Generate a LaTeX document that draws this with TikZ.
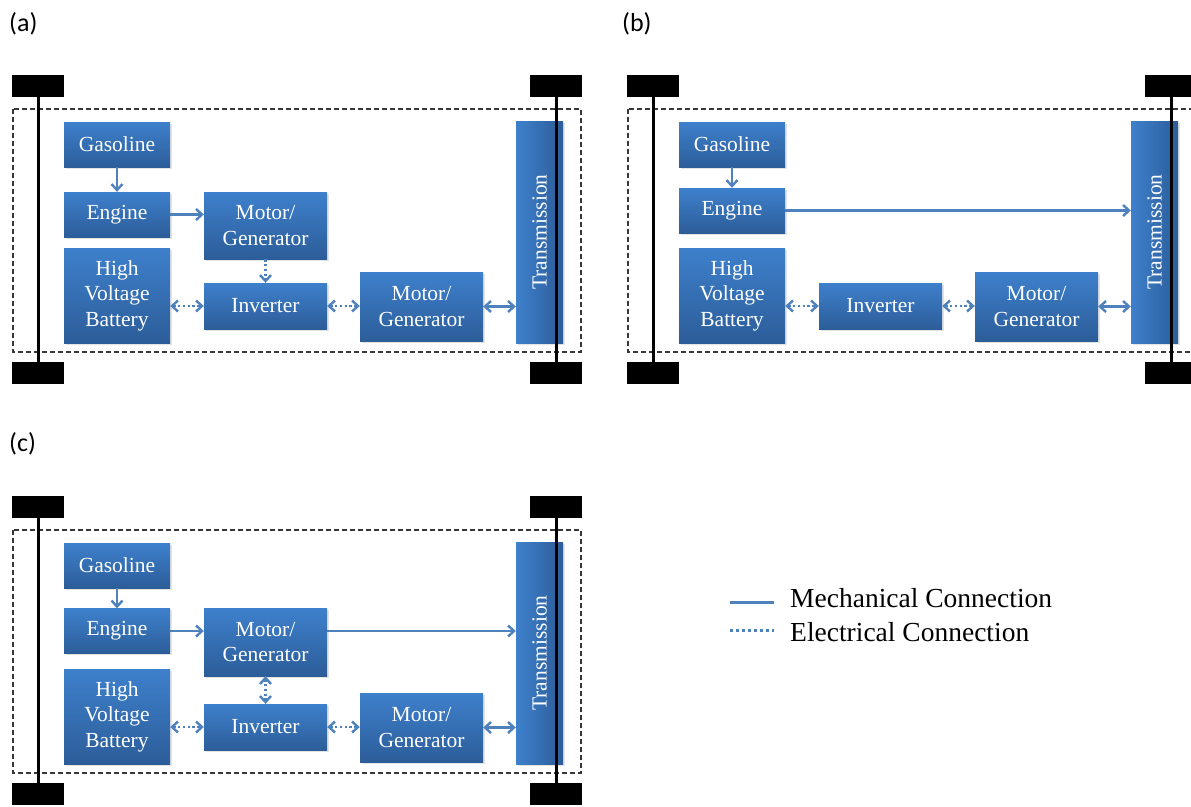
\documentclass[tikz,border=0pt]{standalone}
\usepackage{fontspec}
\setmainfont{Liberation Serif}
\newfontfamily\panelfont{Carlito}
\usetikzlibrary{arrows.meta,shadows}

\definecolor{boxtop}{RGB}{62,128,204}
\definecolor{boxbot}{RGB}{44,93,153}
\definecolor{linkblue}{RGB}{79,129,189}
\definecolor{framegray}{RGB}{55,55,55}

\tikzset{
  blk/.style={rectangle, inner sep=0pt, draw=none, text=white, align=center,
    font=\fontsize{21.5}{25.5}\selectfont,
    top color=boxtop, bottom color=boxbot,
    drop shadow={opacity=0.22, shadow xshift=1.5pt, shadow yshift=-1.5pt}},
  transbox/.style={blk, left color=boxtop, right color=boxbot},
  wheel/.style={rectangle, fill=black, draw=none, inner sep=0pt,
    minimum width=52pt, minimum height=22pt},
  axle/.style={draw=black, line width=3pt},
  chassis/.style={draw=framegray, line width=1.2pt, dash pattern=on 5pt off 3pt},
  mech/.style={draw=linkblue, line width=2.4pt, -{Straight Barb[length=6pt, width=11pt]}},
  mechboth/.style={draw=linkblue, line width=2.4pt, {Straight Barb[length=6pt, width=11pt]}-{Straight Barb[length=6pt, width=11pt]}},
  elec/.style={draw=linkblue, line width=2.4pt, dash pattern=on 2.4pt off 2.4pt, -{Straight Barb[length=6pt, width=11pt]}},
  elecboth/.style={draw=linkblue, line width=2.4pt, dash pattern=on 2.4pt off 2.4pt, {Straight Barb[length=6pt, width=11pt]}-{Straight Barb[length=6pt, width=11pt]}},
  panellabel/.style={inner sep=0pt, anchor=west, font=\panelfont\fontsize{26}{30}\selectfont},
  legendtext/.style={inner sep=0pt, anchor=base west, font=\fontsize{27.5}{32}\selectfont},
}

% Parts shared by every layout: wheels, axles, body outline, fuel,
% engine, battery, inverter, traction motor and transmission.
% #1 = name prefix, #2 = engine centre y
\newcommand{\drivetrain}[2]{%
  \draw[chassis] (13,109) rectangle (581,352);
  \node[blk, minimum width=106pt, minimum height=45pt] (#1-gas) at (117,144.5) {Gasoline};
  \node[blk, minimum width=106pt, minimum height=45pt] (#1-eng) at (117,#2) {Engine};
  \node[blk, minimum width=106pt, minimum height=95pt] (#1-bat) at (117,295.5) {High\\Voltage\\Battery};
  \node[blk, minimum width=123pt, minimum height=46pt] (#1-inv) at (265.5,306) {Inverter};
  \node[blk, minimum width=123pt, minimum height=69pt] (#1-mg2) at (421.5,306.5) {Motor/\\Generator};
  \node[transbox, minimum width=47pt, minimum height=222pt] (#1-tr) at (539.5,232)
    {\rotatebox{90}{Transmission}};
  \node[wheel] (#1-wtl) at (38,86) {};
  \node[wheel] (#1-wbl) at (38,373) {};
  \node[wheel] (#1-wtr) at (556,86) {};
  \node[wheel] (#1-wbr) at (556,373) {};
  \draw[axle] (#1-wtl) -- (#1-wbl);
  \draw[axle] (#1-wtr) -- (#1-wbr);
  \draw[mech] (#1-gas) -- (#1-eng);
  \draw[elecboth] (#1-inv.west -| #1-bat.east) -- (#1-inv.west);
  \draw[elecboth] (#1-inv.east) -- (#1-inv.east -| #1-mg2.west);
  \draw[mechboth] (#1-mg2.east) -- (#1-mg2.east -| #1-tr.west);
}

\begin{document}
\begin{tikzpicture}[x=1pt, y=-1pt]
  \useasboundingbox (0,0) rectangle (1191,806);
  \clip (0,0) rectangle (1191,806);

  % (a) series-parallel with generator feeding the inverter
  \node[panellabel] (la) at (9,24) {(a)};
  \begin{scope}
    \drivetrain{a}{214.5}
    \node[blk, minimum width=123pt, minimum height=67pt] (a-mg1) at (265.5,225.5) {Motor/\\Generator};
    \draw[mech] (a-eng.east) -- (a-eng.east -| a-mg1.west);
    \draw[elec] (a-mg1) -- (a-inv);
  \end{scope}

  % (b) engine drives the transmission directly
  \node[panellabel] (lb) at (622,24) {(b)};
  \begin{scope}[shift={(615,0)}]
    \drivetrain{b}{210.5}
    \draw[mech] (b-eng.east) -- (b-eng.east -| b-tr.west);
  \end{scope}

  % (c) engine and first motor on the same shaft
  \node[panellabel] (lc) at (9,444) {(c)};
  \begin{scope}[shift={(0,421)}]
    \drivetrain{c}{210}
    \node[blk, minimum width=123pt, minimum height=68pt] (c-mg1) at (265.5,221) {Motor/\\Generator};
    \draw[mech] (c-eng.east) -- (c-eng.east -| c-mg1.west);
    \draw[mech] (c-eng.east -| c-mg1.east) -- (c-eng.east -| c-tr.west);
    \draw[elecboth] (c-mg1) -- (c-inv);
  \end{scope}

  % legend
  \coordinate (m1) at (730,602);
  \coordinate (m2) at (774,602);
  \coordinate (e1) at (730,630);
  \coordinate (e2) at (774,630);
  \draw[draw=linkblue, line width=3pt] (m1) -- (m2);
  \draw[draw=linkblue, line width=3pt, dash pattern=on 3pt off 3pt] (e1) -- (e2);
  \node[legendtext] (lm) at (790,607) {Mechanical Connection};
  \node[legendtext] (le) at (790,641) {Electrical Connection};
\end{tikzpicture}
\end{document}
